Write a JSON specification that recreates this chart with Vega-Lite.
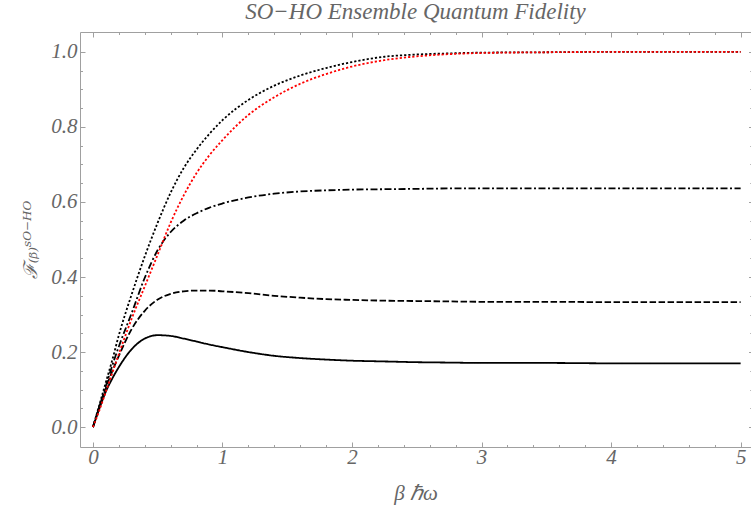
{
  "$schema": "https://vega.github.io/schema/vega-lite/v6.json",
  "autosize": {"type": "none"},
  "padding": {"left": 80, "top": 32, "right": 0, "bottom": 61},
  "width": 671,
  "height": 415,
  "title": {
    "text": "SO−HO Ensemble Quantum Fidelity",
    "font": "Liberation Serif",
    "fontStyle": "italic",
    "fontWeight": "normal",
    "fontSize": 23,
    "color": "#666666",
    "anchor": "middle",
    "baseline": "alphabetic",
    "offset": -10
  },
  "data": {
    "values": [
      {"x": 0, "y": 0, "s": "a"}, {"x": 0.05, "y": 0.05, "s": "a"}, {"x": 0.1, "y": 0.095, "s": "a"}, {"x": 0.15, "y": 0.13, "s": "a"}, {"x": 0.2, "y": 0.16, "s": "a"}, {"x": 0.3, "y": 0.208, "s": "a"}, {"x": 0.4, "y": 0.236, "s": "a"}, {"x": 0.5, "y": 0.245, "s": "a"}, {"x": 0.6, "y": 0.243, "s": "a"}, {"x": 0.7, "y": 0.236, "s": "a"}, {"x": 0.8, "y": 0.228, "s": "a"}, {"x": 0.9, "y": 0.22, "s": "a"}, {"x": 1.0, "y": 0.213, "s": "a"}, {"x": 1.2, "y": 0.2, "s": "a"}, {"x": 1.4, "y": 0.19, "s": "a"}, {"x": 1.6, "y": 0.184, "s": "a"}, {"x": 1.8, "y": 0.18, "s": "a"}, {"x": 2.0, "y": 0.177, "s": "a"}, {"x": 2.25, "y": 0.175, "s": "a"}, {"x": 2.5, "y": 0.173, "s": "a"}, {"x": 2.75, "y": 0.172, "s": "a"}, {"x": 3, "y": 0.171, "s": "a"}, {"x": 3.5, "y": 0.171, "s": "a"}, {"x": 4, "y": 0.17, "s": "a"}, {"x": 4.5, "y": 0.17, "s": "a"}, {"x": 5, "y": 0.17, "s": "a"},
      {"x": 0, "y": 0, "s": "b"}, {"x": 0.05, "y": 0.055, "s": "b"}, {"x": 0.1, "y": 0.105, "s": "b"}, {"x": 0.15, "y": 0.15, "s": "b"}, {"x": 0.2, "y": 0.19, "s": "b"}, {"x": 0.3, "y": 0.262, "s": "b"}, {"x": 0.4, "y": 0.31, "s": "b"}, {"x": 0.5, "y": 0.34, "s": "b"}, {"x": 0.6, "y": 0.355, "s": "b"}, {"x": 0.7, "y": 0.362, "s": "b"}, {"x": 0.8, "y": 0.364, "s": "b"}, {"x": 0.9, "y": 0.364, "s": "b"}, {"x": 1.0, "y": 0.362, "s": "b"}, {"x": 1.2, "y": 0.357, "s": "b"}, {"x": 1.4, "y": 0.35, "s": "b"}, {"x": 1.6, "y": 0.345, "s": "b"}, {"x": 1.8, "y": 0.341, "s": "b"}, {"x": 2.0, "y": 0.339, "s": "b"}, {"x": 2.25, "y": 0.337, "s": "b"}, {"x": 2.5, "y": 0.336, "s": "b"}, {"x": 2.75, "y": 0.335, "s": "b"}, {"x": 3, "y": 0.334, "s": "b"}, {"x": 3.5, "y": 0.334, "s": "b"}, {"x": 4, "y": 0.333, "s": "b"}, {"x": 4.5, "y": 0.333, "s": "b"}, {"x": 5, "y": 0.333, "s": "b"},
      {"x": 0, "y": 0, "s": "c"}, {"x": 0.05, "y": 0.055, "s": "c"}, {"x": 0.1, "y": 0.11, "s": "c"}, {"x": 0.15, "y": 0.165, "s": "c"}, {"x": 0.2, "y": 0.215, "s": "c"}, {"x": 0.3, "y": 0.305, "s": "c"}, {"x": 0.4, "y": 0.398, "s": "c"}, {"x": 0.5, "y": 0.472, "s": "c"}, {"x": 0.6, "y": 0.52, "s": "c"}, {"x": 0.7, "y": 0.55, "s": "c"}, {"x": 0.8, "y": 0.57, "s": "c"}, {"x": 0.9, "y": 0.585, "s": "c"}, {"x": 1.0, "y": 0.596, "s": "c"}, {"x": 1.2, "y": 0.612, "s": "c"}, {"x": 1.4, "y": 0.622, "s": "c"}, {"x": 1.6, "y": 0.628, "s": "c"}, {"x": 1.8, "y": 0.631, "s": "c"}, {"x": 2.0, "y": 0.633, "s": "c"}, {"x": 2.25, "y": 0.634, "s": "c"}, {"x": 2.5, "y": 0.635, "s": "c"}, {"x": 2.75, "y": 0.636, "s": "c"}, {"x": 3, "y": 0.636, "s": "c"}, {"x": 3.5, "y": 0.636, "s": "c"}, {"x": 4, "y": 0.636, "s": "c"}, {"x": 4.5, "y": 0.636, "s": "c"}, {"x": 5, "y": 0.636, "s": "c"},
      {"x": 0, "y": 0, "s": "d"}, {"x": 0.05, "y": 0.06, "s": "d"}, {"x": 0.1, "y": 0.12, "s": "d"}, {"x": 0.15, "y": 0.18, "s": "d"}, {"x": 0.2, "y": 0.245, "s": "d"}, {"x": 0.3, "y": 0.355, "s": "d"}, {"x": 0.4, "y": 0.455, "s": "d"}, {"x": 0.5, "y": 0.545, "s": "d"}, {"x": 0.6, "y": 0.625, "s": "d"}, {"x": 0.7, "y": 0.69, "s": "d"}, {"x": 0.8, "y": 0.74, "s": "d"}, {"x": 0.9, "y": 0.782, "s": "d"}, {"x": 1.0, "y": 0.818, "s": "d"}, {"x": 1.2, "y": 0.872, "s": "d"}, {"x": 1.4, "y": 0.91, "s": "d"}, {"x": 1.6, "y": 0.937, "s": "d"}, {"x": 1.8, "y": 0.957, "s": "d"}, {"x": 2.0, "y": 0.973, "s": "d"}, {"x": 2.25, "y": 0.987, "s": "d"}, {"x": 2.5, "y": 0.993, "s": "d"}, {"x": 2.75, "y": 0.996, "s": "d"}, {"x": 3, "y": 0.998, "s": "d"}, {"x": 3.5, "y": 0.999, "s": "d"}, {"x": 4, "y": 1.0, "s": "d"}, {"x": 4.5, "y": 1.0, "s": "d"}, {"x": 5, "y": 1.0, "s": "d"},
      {"x": 0, "y": 0, "s": "e"}, {"x": 0.05, "y": 0.045, "s": "e"}, {"x": 0.1, "y": 0.095, "s": "e"}, {"x": 0.15, "y": 0.145, "s": "e"}, {"x": 0.2, "y": 0.195, "s": "e"}, {"x": 0.3, "y": 0.29, "s": "e"}, {"x": 0.4, "y": 0.375, "s": "e"}, {"x": 0.5, "y": 0.46, "s": "e"}, {"x": 0.6, "y": 0.545, "s": "e"}, {"x": 0.7, "y": 0.617, "s": "e"}, {"x": 0.8, "y": 0.677, "s": "e"}, {"x": 0.9, "y": 0.725, "s": "e"}, {"x": 1.0, "y": 0.765, "s": "e"}, {"x": 1.2, "y": 0.832, "s": "e"}, {"x": 1.4, "y": 0.879, "s": "e"}, {"x": 1.6, "y": 0.915, "s": "e"}, {"x": 1.8, "y": 0.941, "s": "e"}, {"x": 2.0, "y": 0.961, "s": "e"}, {"x": 2.25, "y": 0.978, "s": "e"}, {"x": 2.5, "y": 0.988, "s": "e"}, {"x": 2.75, "y": 0.994, "s": "e"}, {"x": 3, "y": 0.997, "s": "e"}, {"x": 3.5, "y": 0.999, "s": "e"}, {"x": 4, "y": 1.0, "s": "e"}, {"x": 4.5, "y": 1.0, "s": "e"}, {"x": 5, "y": 1.0, "s": "e"}
    ]
  },
  "layer": [
    {
      "transform": [{"filter": "datum.s !== 'e'"}],
      "mark": {"type": "line", "interpolate": "monotone", "strokeWidth": 1.8, "strokeCap": "butt", "color": "black", "clip": true},
      "encoding": {
        "x": {
          "field": "x", "type": "quantitative",
          "scale": {"domain": [-0.1, 5.08], "nice": false, "zero": false},
          "axis": {
            "orient": "bottom",
            "values": [0, 0.2, 0.4, 0.6, 0.8, 1, 1.2, 1.4, 1.6, 1.8, 2, 2.2, 2.4, 2.6, 2.8, 3, 3.2, 3.4, 3.6, 3.8, 4, 4.2, 4.4, 4.6, 4.8, 5],
            "tickSize": {"condition": {"test": "datum.value % 1 === 0", "value": -5}, "value": -2.5},
            "labelExpr": "datum.value % 1 === 0 ? format(datum.value, 'd') : ''",
            "labelPadding": 4,
            "title": "β ℏω",
            "titlePadding": 13
          }
        },
        "y": {
          "field": "y", "type": "quantitative",
          "scale": {"domain": [-0.053, 1.053], "nice": false, "zero": false},
          "axis": {
            "orient": "left",
            "values": [0, 0.05, 0.1, 0.15, 0.2, 0.25, 0.3, 0.35, 0.4, 0.45, 0.5, 0.55, 0.6, 0.65, 0.7, 0.75, 0.8, 0.85, 0.9, 0.95, 1],
            "tickSize": {"condition": {"test": "abs(datum.value*5 - round(datum.value*5)) < 1e-6", "value": -5}, "value": -2.5},
            "labelExpr": "abs(datum.value*5 - round(datum.value*5)) < 1e-6 ? format(datum.value, '.1f') : ''",
            "labelPadding": 8,
            "title": "ℱ₍ᵦ₎ˢᴼ⁻ᴴᴼ",
            "titleFont": "DejaVu Serif",
            "titleFontSize": 19,
            "titlePadding": 10
          }
        },
        "detail": {"field": "s"},
        "strokeDash": {
          "field": "s", "type": "nominal",
          "scale": {"domain": ["a", "b", "c", "d"], "range": [[1, 0], [6.5, 2.5], [7, 2.5, 2, 2.5], [2.2, 2]]},
          "legend": null
        }
      }
    },
    {
      "transform": [{"filter": "datum.s === 'e'"}],
      "mark": {"type": "line", "interpolate": "monotone", "strokeWidth": 1.8, "strokeCap": "butt", "color": "#ff0000", "strokeDash": [2.2, 2], "clip": true},
      "encoding": {
        "x": {
          "field": "x", "type": "quantitative",
          "axis": {
            "orient": "top",
            "values": [0, 0.2, 0.4, 0.6, 0.8, 1, 1.2, 1.4, 1.6, 1.8, 2, 2.2, 2.4, 2.6, 2.8, 3, 3.2, 3.4, 3.6, 3.8, 4, 4.2, 4.4, 4.6, 4.8, 5],
            "tickSize": {"condition": {"test": "datum.value % 1 === 0", "value": -5}, "value": -2.5},
            "labels": false,
            "title": null
          }
        },
        "y": {
          "field": "y", "type": "quantitative",
          "axis": {
            "orient": "right",
            "values": [0, 0.05, 0.1, 0.15, 0.2, 0.25, 0.3, 0.35, 0.4, 0.45, 0.5, 0.55, 0.6, 0.65, 0.7, 0.75, 0.8, 0.85, 0.9, 0.95, 1],
            "tickSize": {"condition": {"test": "abs(datum.value*5 - round(datum.value*5)) < 1e-6", "value": -2.5}, "value": -1.2},
            "labels": false,
            "domain": false,
            "title": null
          }
        }
      }
    }
  ],
  "resolve": {"axis": {"x": "independent", "y": "independent"}},
  "config": {
    "view": {"stroke": null},
    "axis": {
      "grid": false,
      "domainColor": "#a0a0a0",
      "domainWidth": 1,
      "tickColor": "#a0a0a0",
      "tickWidth": 1,
      "labelFont": "Liberation Serif",
      "labelFontStyle": "italic",
      "labelFontSize": 21,
      "labelColor": "#666666",
      "labelOverlap": false,
      "labelFlush": false,
      "titleFont": "Liberation Serif",
      "titleFontStyle": "italic",
      "titleFontWeight": "normal",
      "titleFontSize": 21,
      "titleColor": "#666666"
    }
  }
}
